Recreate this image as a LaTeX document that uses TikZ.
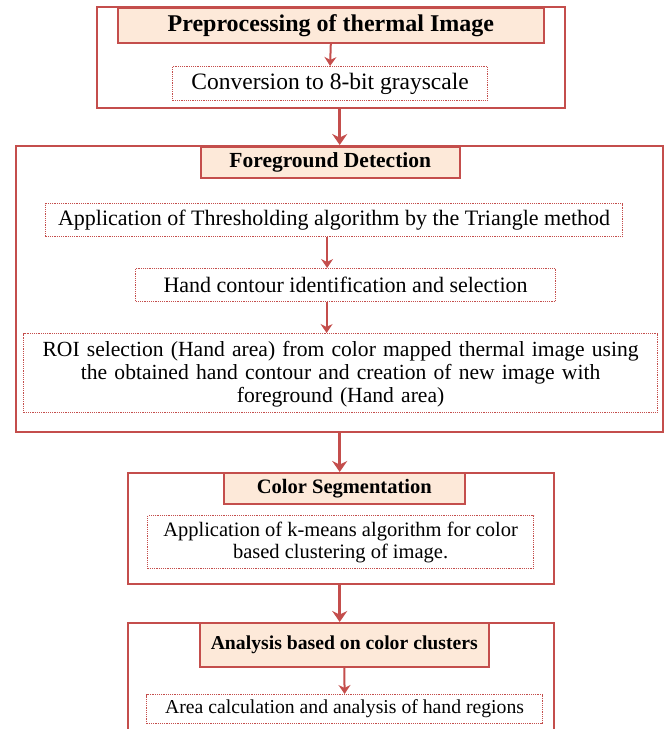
\documentclass[tikz,border=0pt]{standalone}
\usepackage{fontspec}
\setmainfont{Liberation Serif}
\usetikzlibrary{arrows.meta}
\definecolor{redline}{RGB}{196,78,76}
\definecolor{peach}{RGB}{253,233,217}
\newcommand\myfs[2]{\fontsize{#1pt}{#2pt}\selectfont}
\tikzset{
 outerbox/.style={draw=redline, line width=2.4pt, anchor=north west, inner sep=0pt},
 headbox/.style={draw=redline, fill=peach, line width=1.6pt, anchor=north west, inner sep=0pt},
 stepbox/.style={draw=redline, densely dotted, line width=1.2pt, anchor=north west, inner sep=0pt, align=center},
 bigarrow/.style={draw=redline, line width=3pt, -{Stealth[length=11pt,width=15pt]}},
 smallarrow/.style={draw=redline, line width=2pt, -{Stealth[length=9pt,width=12pt]}},
}
\begin{document}
\begin{tikzpicture}[x=1pt,y=-1pt]
\useasboundingbox (0,0) rectangle (667,729);
\clip (0,0) rectangle (667,729);
% box 1
\node[outerbox, minimum width=468pt, minimum height=101pt] (b1) at (96,6) {};
\node[headbox, minimum width=426pt, minimum height=35pt, font=\bfseries\myfs{24}{28}] (h1) at (117,7) {Preprocessing of thermal Image};
\node[stepbox, minimum width=315pt, minimum height=34pt, font=\myfs{23.5}{28}] (s1) at (172,66) {Conversion to 8-bit grayscale};
\draw[smallarrow] (h1.south) -- (s1.north);
% box 2
\node[outerbox, minimum width=647pt, minimum height=286pt] (b2) at (15,145) {};
\node[headbox, minimum width=259pt, minimum height=31pt, font=\bfseries\myfs{21.5}{26}] (h2) at (200,146) {Foreground Detection};
\node[stepbox, minimum width=577pt, minimum height=33pt, font=\myfs{22}{26}] (s2a) at (45,203) {Application of Thresholding algorithm by the Triangle method};
\node[stepbox, minimum width=420pt, minimum height=33pt, font=\myfs{22}{26}] (s2b) at (135,268) {Hand contour identification and selection};
\node[stepbox, minimum width=634pt, minimum height=79pt, text width=630pt, font=\myfs{21.6}{23}] (s2c) at (23,333) {\rule{0pt}{18pt}ROI selection (Hand area) from color mapped thermal image using\\ the obtained hand contour and creation of new image with\\ foreground (Hand area)};
\draw[smallarrow] ([xshift=-7pt]s2a.south) -- ([xshift=-7pt]s2a.south |- s2b.north);
\draw[smallarrow] ([xshift=-19pt]s2b.south) -- ([xshift=-19pt]s2b.south |- s2c.north);
\draw[bigarrow] (b2.north |- b1.south) -- (b2.north);
% box 3
\node[outerbox, minimum width=426pt, minimum height=111pt] (b3) at (127,472) {};
\node[headbox, minimum width=241pt, minimum height=31pt, font=\bfseries\myfs{20.5}{24}] (h3) at (223,472) {Color Segmentation};
\node[stepbox, minimum width=386pt, minimum height=53pt, font=\myfs{20.5}{22}] (s3) at (147,515) {Application of k-means algorithm for color\\ based clustering of image.};
\draw[bigarrow] (b2.south) -- (b2.south |- b3.north);
% box 4
\node[outerbox, minimum width=426pt, minimum height=130pt] (b4) at (127,622) {};
\node[headbox, minimum width=289pt, minimum height=44pt, font=\bfseries\myfs{19.7}{24}] (h4) at (199,622) {Analysis based on color clusters};
\node[stepbox, minimum width=396pt, minimum height=29pt, font=\myfs{19.7}{24}] (s4) at (146,694) {Area calculation and analysis of hand regions};
\draw[bigarrow] (b2.south |- b3.south) -- (b2.south |- b4.north);
\draw[smallarrow] (h4.south) -- (s4.north);
\end{tikzpicture}
\end{document}
